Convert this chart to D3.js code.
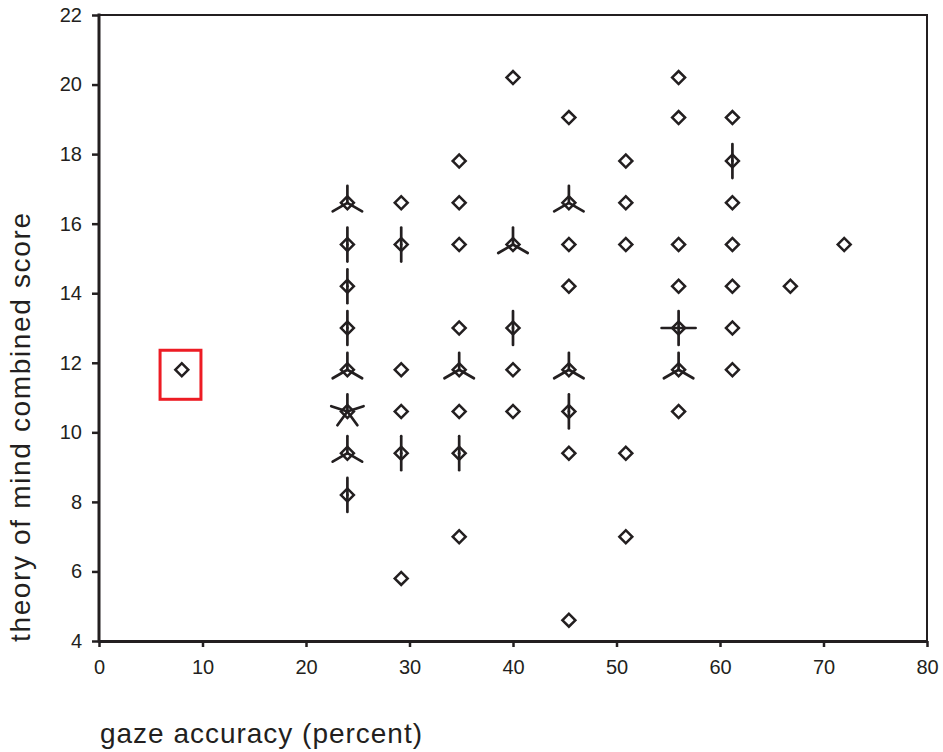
<!DOCTYPE html>
<html>
<head>
<meta charset="utf-8">
<script src="https://cdn.jsdelivr.net/npm/d3@7"></script>
<style>
  body { margin: 0; background: #fff; }
  text { font-family: "Liberation Sans", Arial, sans-serif; fill: #231f20; }
</style>
</head>
<body>
<svg id="svg" width="943" height="752"></svg>
<script>
// sunflower plot: each point is (gaze, tom) with a count of overlapping cases
var gaze  = [8,
  24, 24, 24, 24, 24, 24, 24, 24,
  29.2, 29.2, 29.2, 29.2, 29.2, 29.2,
  34.8, 34.8, 34.8, 34.8, 34.8, 34.8, 34.8, 34.8,
  40, 40, 40, 40, 40,
  45.4, 45.4, 45.4, 45.4, 45.4, 45.4, 45.4, 45.4,
  50.9, 50.9, 50.9, 50.9, 50.9,
  56, 56, 56, 56, 56, 56, 56,
  61.2, 61.2, 61.2, 61.2, 61.2, 61.2, 61.2,
  66.8, 72];
var tom   = [11.8,
  16.6, 15.4, 14.2, 13, 11.8, 10.6, 9.4, 8.2,
  16.6, 15.4, 11.8, 10.6, 9.4, 5.8,
  17.8, 16.6, 15.4, 13, 11.8, 10.6, 9.4, 7,
  20.2, 15.4, 13, 11.8, 10.6,
  19.05, 16.6, 15.4, 14.2, 11.8, 10.6, 9.4, 4.6,
  17.8, 16.6, 15.4, 9.4, 7,
  20.2, 19.05, 15.4, 14.2, 13, 11.8, 10.6,
  19.05, 17.8, 16.6, 15.4, 14.2, 13, 11.8,
  14.2, 15.4];
var count = [1,
  3, 2, 2, 2, 3, 5, 3, 2,
  1, 2, 1, 1, 2, 1,
  1, 1, 1, 1, 3, 1, 2, 1,
  1, 3, 2, 1, 1,
  1, 3, 1, 1, 3, 2, 1, 1,
  1, 1, 1, 1, 1,
  1, 1, 1, 1, 4, 3, 1,
  1, 2, 1, 1, 1, 1, 1,
  1, 1];
var xTicks = [0, 10, 20, 30, 40, 50, 60, 70, 80];
var yTicks = [4, 6, 8, 10, 12, 14, 16, 18, 20, 22];
// highlighted outlier box (data units)
var boxX = [5.9, 9.85];
var boxY = [10.95, 12.36];

var ink = "#231f20";
var svg = d3.select("#svg");
var pLeft = 99, pRight = 927, pTop = 15, pBottom = 641;

var x = d3.scaleLinear().domain([0, 80]).range([pLeft, pRight]);
var y = d3.scaleLinear().domain([4, 22]).range([pBottom, pTop]);

// frame (top and right)
svg.append("path")
  .attr("d", "M" + pLeft + "," + pTop + "H" + pRight + "V" + pBottom)
  .attr("fill", "none").attr("stroke", ink).attr("stroke-width", 2);

var xAxis = svg.append("g")
  .attr("transform", "translate(0," + pBottom + ")")
  .call(d3.axisBottom(x).tickValues(xTicks).tickSize(6).tickSizeOuter(0).tickPadding(13));
var yAxis = svg.append("g")
  .attr("transform", "translate(" + pLeft + ",0)")
  .call(d3.axisLeft(y).tickValues(yTicks).tickSize(7).tickSizeOuter(0).tickPadding(10));

[xAxis, yAxis].forEach(function(g) {
  g.attr("font-size", 20).attr("font-family", "Liberation Sans, Arial, sans-serif");
  g.select(".domain").attr("stroke", ink).attr("stroke-width", 3);
  g.selectAll(".tick line").attr("stroke", ink).attr("stroke-width", 2.5);
  g.selectAll(".tick text").attr("fill", ink);
});
yAxis.select(".domain").attr("d", "M0," + (pTop - 1.5) + "V" + (pBottom + 1.5));

// axis titles
svg.append("text")
  .attr("x", 100).attr("y", 743)
  .attr("font-size", 28)
  .attr("textLength", 322).attr("lengthAdjust", "spacing")
  .text("gaze accuracy (percent)");
svg.append("text")
  .attr("transform", "translate(30,642) rotate(-90)")
  .attr("font-size", 28)
  .attr("textLength", 429).attr("lengthAdjust", "spacing")
  .text("theory of mind combined score");

var pts = gaze.map(function(g, i) { return { gx: g, ty: tom[i], n: count[i] }; });
var petal = 17;

var flowers = svg.append("g").selectAll("g").data(pts).enter().append("g")
  .attr("transform", function(d) { return "translate(" + x(d.gx) + "," + y(d.ty) + ")"; });

flowers.each(function(d) {
  var g = d3.select(this);
  if (d.n > 1) {
    d3.range(d.n).forEach(function(k) {
      var a = -Math.PI / 2 + k * 2 * Math.PI / d.n;
      g.append("line")
        .attr("x1", 0).attr("y1", 0)
        .attr("x2", petal * Math.cos(a)).attr("y2", petal * Math.sin(a))
        .attr("stroke", ink).attr("stroke-width", 2.7).attr("stroke-linecap", "round");
    });
  }
  g.append("path")
    .attr("d", d3.symbol().type(d3.symbolSquare).size(84)())
    .attr("transform", "rotate(45)")
    .attr("fill", "none").attr("stroke", ink).attr("stroke-width", 2.5);
});

svg.append("rect")
  .attr("x", x(boxX[0])).attr("y", y(boxY[1]))
  .attr("width", x(boxX[1]) - x(boxX[0])).attr("height", y(boxY[0]) - y(boxY[1]))
  .attr("fill", "none").attr("stroke", "#ed1c24").attr("stroke-width", 3);
</script>
</body>
</html>
